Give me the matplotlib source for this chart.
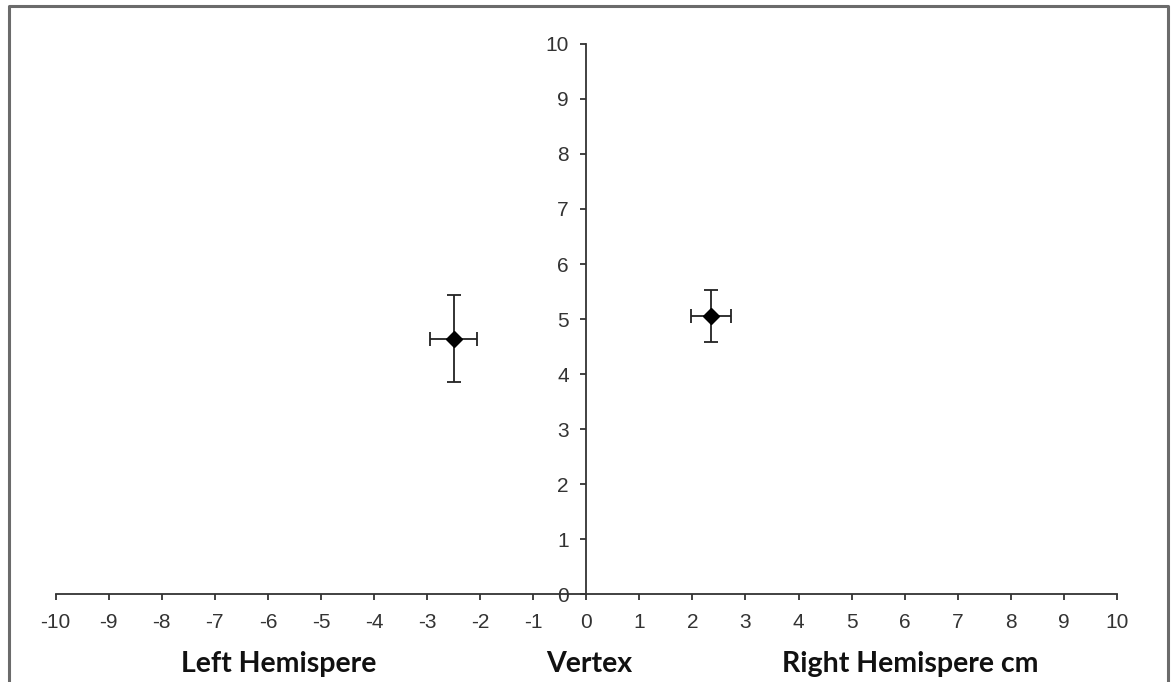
import matplotlib
matplotlib.use("Agg")
import matplotlib.pyplot as plt
from matplotlib.lines import Line2D

plt.rcParams["axes.unicode_minus"] = False
plt.rcParams["font.family"] = ["Liberation Sans", "DejaVu Sans"]

# Mean position of each hemisphere (cm) with error bars
x_vals = [-2.50, 2.35]
y_vals = [4.64, 5.05]
x_err = [0.44, 0.37]
y_err = [0.79, 0.47]

x_ticks = list(range(-10, 11))
y_ticks = list(range(0, 11))
bottom_labels = ["Left Hemispere", "Vertex", "Right Hemispere cm"]
bottom_label_x = [-5.8, 0.05, 6.1]

fig = plt.figure(figsize=(11.74, 6.82), dpi=100)
ax = fig.add_axes([0.0474, 0.129, 0.904, 0.8065])

ax.errorbar(x_vals, y_vals, xerr=x_err, yerr=y_err, fmt="D", color="black",
            markersize=8.5, ecolor="#222222", elinewidth=1.3, capsize=5, capthick=1.3)

ax.set_xlim(-10, 10)
ax.set_ylim(0, 10)
ax.set_xticks(x_ticks)
ax.set_yticks(y_ticks)

ax.spines["left"].set_position(("data", 0))
ax.spines["bottom"].set_position(("data", 0))
ax.spines["right"].set_visible(False)
ax.spines["top"].set_visible(False)
for s in ["left", "bottom"]:
    ax.spines[s].set_color("#333333")
    ax.spines[s].set_linewidth(1.3)

ax.tick_params(axis="both", direction="out", length=4.5, width=1.3, color="#333333",
               labelsize=15, labelcolor="#333333")
ax.tick_params(axis="x", pad=9)
ax.tick_params(axis="y", pad=8)

for lab, xv in zip(bottom_labels, bottom_label_x):
    ax.text(xv, -1.27, lab, ha="center", va="center", fontsize=20.5,
            fontweight="bold", family="Lato", color="#111111")

# grey frame around the chart (left, top, right)
frame = Line2D([9 / 1174, 9 / 1174, 1168 / 1174, 1168 / 1174],
               [0, 1 - 6 / 682, 1 - 6 / 682, 0],
               transform=fig.transFigure, color="#6b6b6b", linewidth=2.2)
fig.add_artist(frame)

fig.savefig("out.png", dpi=100)
